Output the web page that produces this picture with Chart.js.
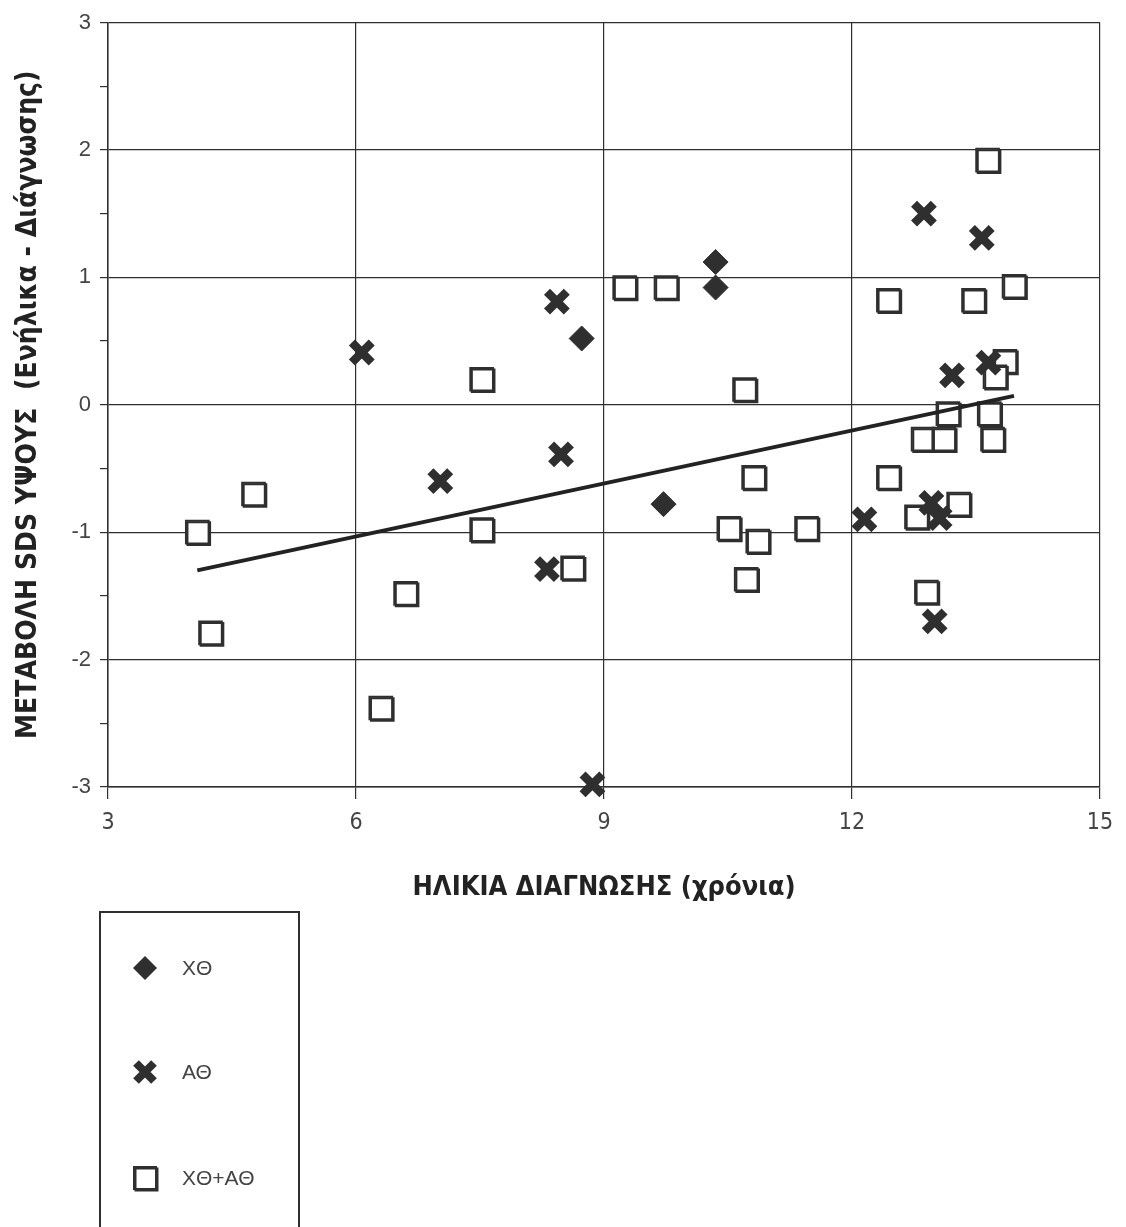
<!DOCTYPE html>
<html>
<head>
<meta charset="utf-8">
<script src="https://cdn.jsdelivr.net/npm/chart.js@4"></script>
<style>
  body { margin: 0; background: #fff; }
  #wrap { width: 1126px; height: 1227px; position: relative; }
</style>
</head>
<body>
<div id="wrap"><canvas id="chart"></canvas></div>
<script>
// ΧΘ group (diamonds)
const xthX = [10.35, 10.35, 8.73, 9.72];
const xthY = [1.12, 0.92, 0.52, -0.78];

// ΑΘ group (crosses)
const athX = [6.07, 8.43, 7.02, 8.48, 8.31, 8.86, 12.87, 13.57, 13.21, 13.65, 12.15, 12.96, 13.06, 13.00];
const athY = [0.41, 0.81, -0.60, -0.39, -1.29, -2.98, 1.50, 1.31, 0.23, 0.33, -0.90, -0.77, -0.89, -1.70];

// ΧΘ+ΑΘ group (open squares)
const mixX = [4.08, 4.76, 4.24, 6.60, 6.30, 7.52, 7.52, 8.62, 9.25, 9.75, 10.70, 10.81, 10.51, 10.86, 10.72, 11.45,
              13.64, 12.44, 13.47, 13.96, 13.85, 13.73, 13.16, 13.66, 12.86, 13.11, 13.70, 12.44, 12.78, 13.29, 12.90];
const mixY = [-1.00, -0.70, -1.79, -1.48, -2.38, 0.20, -0.98, -1.28, 0.92, 0.92, 0.12, -0.57, -0.97, -1.07, -1.37, -0.97,
              1.92, 0.82, 0.82, 0.93, 0.34, 0.22, -0.07, -0.07, -0.27, -0.27, -0.27, -0.57, -0.88, -0.78, -1.47];

// regression line end points
const trendX = [4.08, 13.96];
const trendY = [-1.30, 0.07];

// axis ticks
const xTickValues = [3, 6, 9, 12, 15];
const yTickValues = [-3, -2, -1, 0, 1, 2, 3];

const legendLabels = ["ΧΘ", "ΑΘ", "ΧΘ+ΑΘ"];
const xTitle = "ΗΛΙΚΙΑ ΔΙΑΓΝΩΣΗΣ (χρόνια)";
const yTitle = "ΜΕΤΑΒΟΛΗ SDS ΥΨΟΥΣ  (Ενήλικα - Διάγνωσης)";

const ink = "#2f2f2f";
const narrow = "'Liberation Sans Narrow', 'Arial Narrow', 'DejaVu Sans Condensed', Arial, sans-serif";

function toPoints(xs, ys) {
    return xs.map((x, i) => ({ x: x, y: ys[i] }));
}

// drop shadow under the open squares, like the printed original
const squareShadow = {
    id: "squareShadow",
    beforeDatasetDraw(chart, args) {
        if (args.index !== 2) return;
        const ctx = chart.ctx;
        ctx.save();
        ctx.shadowColor = ink;
        ctx.shadowOffsetX = 1.5;
        ctx.shadowOffsetY = 1.5;
        ctx.shadowBlur = 0;
    },
    afterDatasetDraw(chart, args) {
        if (args.index !== 2) return;
        chart.ctx.restore();
    }
};

// boxed legend below the plot
const boxLegend = {
    id: "boxLegend",
    afterDraw(chart) {
        const ctx = chart.ctx;
        ctx.save();
        ctx.strokeStyle = ink;
        ctx.lineWidth = 2;
        ctx.strokeRect(100, 912, 199, 340);

        const sx = 145;
        const rows = [968, 1072, 1178];

        // diamond
        ctx.fillStyle = ink;
        ctx.beginPath();
        ctx.moveTo(sx - 12, rows[0]);
        ctx.lineTo(sx, rows[0] - 12);
        ctx.lineTo(sx + 12, rows[0]);
        ctx.lineTo(sx, rows[0] + 12);
        ctx.closePath();
        ctx.fill();

        // cross
        ctx.lineWidth = 8;
        ctx.beginPath();
        ctx.moveTo(sx - 9, rows[1] - 9);
        ctx.lineTo(sx + 9, rows[1] + 9);
        ctx.moveTo(sx - 9, rows[1] + 9);
        ctx.lineTo(sx + 9, rows[1] - 9);
        ctx.stroke();

        // square
        ctx.lineWidth = 2;
        ctx.shadowColor = ink;
        ctx.shadowOffsetX = 1.5;
        ctx.shadowOffsetY = 1.5;
        ctx.fillStyle = "#fff";
        ctx.beginPath();
        ctx.rect(sx - 11, rows[2] - 11, 22, 22);
        ctx.fill();
        ctx.stroke();
        ctx.shadowColor = "transparent";

        ctx.fillStyle = "#444";
        ctx.font = "21px 'Liberation Sans', Arial, sans-serif";
        ctx.textBaseline = "middle";
        legendLabels.forEach((lbl, i) => ctx.fillText(lbl, 182, rows[i] + 1));
        ctx.restore();
    }
};

const ctx = document.getElementById("chart").getContext("2d");
new Chart(ctx, {
    type: "scatter",
    data: {
        datasets: [
            {
                label: legendLabels[0],
                data: toPoints(xthX, xthY),
                pointStyle: "rectRot",
                pointRadius: 12.5,
                backgroundColor: ink,
                borderColor: ink,
                borderWidth: 1,
                clip: false,
                order: 1
            },
            {
                label: legendLabels[1],
                data: toPoints(athX, athY),
                pointStyle: "crossRot",
                pointRadius: 14,
                borderColor: ink,
                borderWidth: 8.5,
                clip: false,
                order: 2
            },
            {
                label: legendLabels[2],
                data: toPoints(mixX, mixY),
                pointStyle: "rect",
                pointRadius: 16,
                backgroundColor: "#fff",
                borderColor: ink,
                borderWidth: 2,
                clip: false,
                order: 3
            },
            {
                type: "line",
                label: "trend",
                data: toPoints(trendX, trendY),
                borderColor: "#222",
                borderWidth: 4,
                pointRadius: 0,
                fill: false,
                order: 0
            }
        ]
    },
    options: {
        responsive: true,
        maintainAspectRatio: false,
        animation: false,
        layout: { padding: { top: 18, right: 26, bottom: 315, left: 0 } },
        plugins: {
            legend: { display: false },
            tooltip: { enabled: false }
        },
        scales: {
            x: {
                type: "linear",
                min: 3,
                max: 15,
                afterBuildTicks: (scale) => { scale.ticks = xTickValues.map(v => ({ value: v })); },
                afterFit: (scale) => { scale.height = 125; },
                grid: { color: ink, lineWidth: 1.2, tickLength: 12, tickColor: ink },
                border: { color: ink, width: 1.5 },
                ticks: {
                    color: "#444",
                    padding: 10,
                    font: { family: narrow, size: 23 }
                },
                title: {
                    display: true,
                    text: xTitle,
                    color: "#222",
                    padding: { top: 0, bottom: 8 },
                    font: { family: narrow, size: 27, weight: "bold" }
                }
            },
            y: {
                type: "linear",
                min: -3,
                max: 3,
                afterBuildTicks: (scale) => {
                    const t = [];
                    yTickValues.forEach((v, i) => {
                        t.push({ value: v });
                        if (i < yTickValues.length - 1) t.push({ value: v + 0.5 });
                    });
                    scale.ticks = t;
                },
                afterFit: (scale) => { scale.width = 108; },
                grid: {
                    color: (c) => Number.isInteger(c.tick.value) ? ink : "rgba(0,0,0,0)",
                    lineWidth: 1.2,
                    tickLength: 8,
                    tickColor: ink
                },
                border: { color: ink, width: 1.5 },
                ticks: {
                    color: "#444",
                    padding: 9,
                    callback: (v) => Number.isInteger(v) ? String(v) : "",
                    font: { family: "'Liberation Sans', Arial, sans-serif", size: 22 }
                },
                title: {
                    display: true,
                    text: yTitle,
                    color: "#222",
                    padding: { top: 12, bottom: 0 },
                    font: { family: narrow, size: 28, weight: "bold" }
                }
            }
        }
    },
    plugins: [squareShadow, boxLegend]
});
</script>
</body>
</html>
